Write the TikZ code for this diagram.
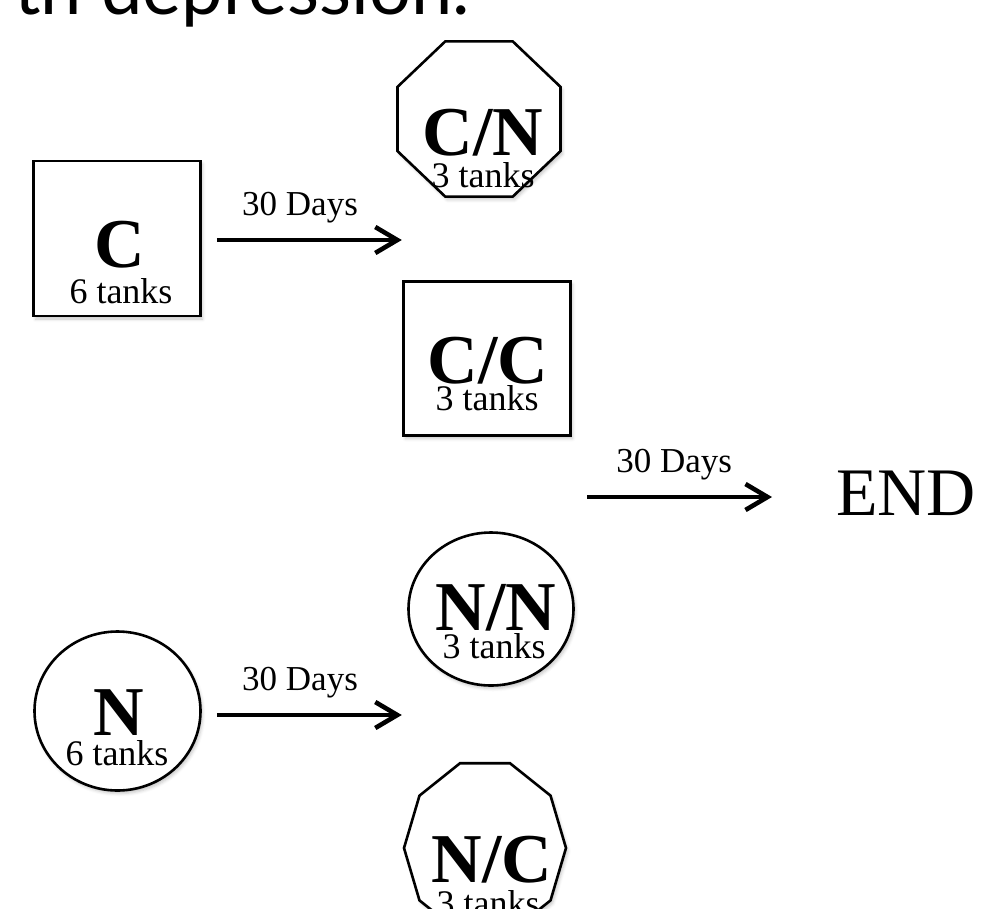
\documentclass[tikz,border=0pt]{standalone}
\usepackage{fontspec}
\setmainfont{Liberation Serif}
\newfontfamily\headfont{Lato}
\usetikzlibrary{arrows.meta,shapes.geometric,shadows.blur}
\tikzset{
  >={Straight Barb[length=22pt,width=26pt]},
  shp/.style   ={draw=black,line width=2.6pt,fill=white,inner sep=0pt,
                 blur shadow={shadow xshift=2pt,shadow yshift=-3pt,
                              shadow blur radius=3pt,shadow opacity=22}},
  sqbox/.style ={shp,rectangle,minimum width=167pt,minimum height=155pt},
  rnd/.style   ={shp,ellipse},
  octo/.style  ={shp,regular polygon,regular polygon sides=8,minimum size=168pt,
                 xscale=1.05,transform shape},
  deca/.style  ={shp,regular polygon,regular polygon sides=10,minimum size=162pt,
                 yscale=1.1,transform shape},
  tag/.style   ={anchor=base,inner sep=0pt,font=\fontsize{70}{70}\selectfont\bfseries},
  cnt/.style   ={anchor=base,inner sep=0pt,font=\fontsize{36}{36}\selectfont},
  days/.style  ={inner sep=0pt,font=\fontsize{35}{35}\selectfont},
  ar/.style    ={->,line width=4.6pt},
}
\begin{document}
\begin{tikzpicture}[x=1pt,y=-1pt]
\path[use as bounding box,clip] (0,0) rectangle (987,908);

% heading, cut off by the frame
\node[anchor=base west,inner sep=0pt,font=\headfont\fontsize{74}{74}\selectfont]
  (Head) at (14,14) {th depression.};

% first split
\node[sqbox] (C) at (117,238.5) {};
\node[tag] (Ct) at (120,267) {C};
\node[cnt] (Ck) at (121,303) {6 tanks};

\node[octo] (CN) at (479,119) {};
\node[tag] (CNt) at (483,155) {C/N};
\node[cnt] (CNk) at (483,187) {3 tanks};

\node[sqbox,minimum height=154pt] (CC) at (487,358.5) {};
\node[tag] (CCt) at (488,383) {C/C};
\node[cnt] (CCk) at (487,410) {3 tanks};

% second split
\node[rnd,minimum width=166pt,minimum height=159pt] (N) at (117.5,711) {};
\node[tag] (Nt) at (119,735) {N};
\node[cnt] (Nk) at (117,765) {6 tanks};

\node[rnd,minimum width=165pt,minimum height=153pt] (NN) at (491,609) {};
\node[tag] (NNt) at (496,630) {N/N};
\node[cnt] (NNk) at (494,658) {3 tanks};

\node[deca] (NC) at (485,848) {};
\node[tag] (NCt) at (492,882) {N/C};
\node[cnt] (NCk) at (488,915) {3 tanks};

\node[anchor=base west,inner sep=0pt,font=\fontsize{68}{68}\selectfont]
  (End) at (836,515) {END};
\coordinate (join) at (587,497);

\draw[ar] ([xshift=15pt,yshift=-1.5pt]C.east) -- +(185,0)
  node[days,pos=.45,above=15pt] {30 Days};
\draw[ar] ([xshift=15pt,yshift=-4pt]N.east) -- +(185,0)
  node[days,pos=.45,above=15pt] {30 Days};
\draw[ar,shorten >=64pt] (join) -- (join -| End.west)
  node[days,pos=.35,above=15pt] {30 Days};
\end{tikzpicture}
\end{document}
